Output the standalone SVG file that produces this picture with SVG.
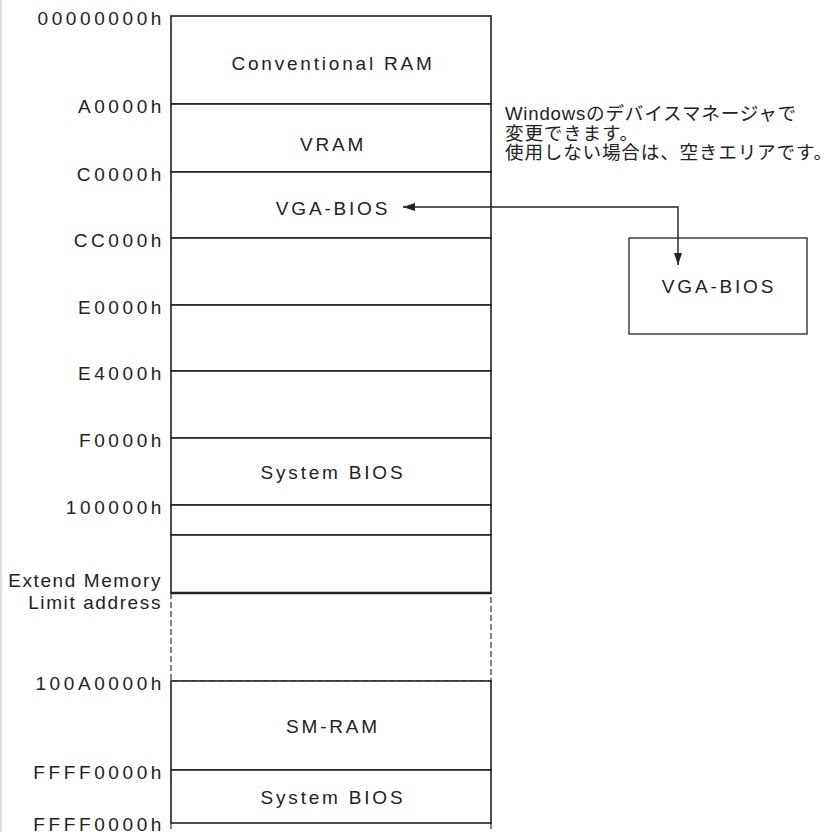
<svg xmlns="http://www.w3.org/2000/svg" width="838" height="832" viewBox="0 0 838 832">
<style>
.addr{font-family:"Liberation Sans",Arial,sans-serif;font-size:19px;fill:#222;letter-spacing:3.6px;text-anchor:end}
.addr2{font-family:"Liberation Sans",Arial,sans-serif;font-size:19px;fill:#222;letter-spacing:1.6px;text-anchor:end}
.lbl{font-family:"Liberation Sans",Arial,sans-serif;font-size:19px;fill:#222;letter-spacing:2.8px;text-anchor:middle}
.note{font-family:"Liberation Sans","Noto Sans CJK JP",sans-serif;font-size:18.6px;fill:#222;letter-spacing:0.8px}
.row{fill:#fff;stroke:#222;stroke-width:1.6}
.dash{fill:none;stroke:#333;stroke-width:1.2;stroke-dasharray:6 3}
.conn{fill:none;stroke:#222;stroke-width:1.4}
</style>
<defs>
<marker id="ah" viewBox="0 0 12 8" refX="12" refY="4" markerWidth="12" markerHeight="8" markerUnits="userSpaceOnUse" orient="auto-start-reverse">
<path d="M0,0 L12,4 L0,8 Z" fill="#222"/>
</marker>
</defs>
<rect width="838" height="832" fill="#fff"/>
<line x1="1" y1="0" x2="1" y2="832" stroke="#ddd" stroke-width="2"/>

<g id="undefined-area">
<rect class="dash" x="171" y="593" width="320" height="88"/>
<line class="dash" x1="171" y1="823" x2="171" y2="832"/>
<line class="dash" x1="491" y1="823" x2="491" y2="832"/>
</g>

<g id="conventional-ram"><rect class="row" x="171" y="16" width="320" height="88"/><text class="lbl" x="333" y="70">Conventional RAM</text></g>
<g id="vram"><rect class="row" x="171" y="104" width="320" height="68"/><text class="lbl" x="333" y="151">VRAM</text></g>
<g id="vga-bios-area"><rect class="row" x="171" y="172" width="320" height="66"/><text class="lbl" x="333" y="215">VGA-BIOS</text></g>
<g id="cc000-area"><rect class="row" x="171" y="238" width="320" height="67"/></g>
<g id="e0000-area"><rect class="row" x="171" y="305" width="320" height="66"/></g>
<g id="e4000-area"><rect class="row" x="171" y="371" width="320" height="67"/></g>
<g id="system-bios"><rect class="row" x="171" y="438" width="320" height="67"/><text class="lbl" x="333" y="479">System BIOS</text></g>
<g id="extended-1"><rect class="row" x="171" y="505" width="320" height="30"/></g>
<g id="extended-2"><rect class="row" x="171" y="535" width="320" height="58"/><line x1="171" y1="593" x2="491" y2="593" stroke="#222" stroke-width="2.4"/></g>
<g id="sm-ram"><rect class="row" x="171" y="681" width="320" height="89"/><text class="lbl" x="333" y="733">SM-RAM</text></g>
<g id="system-bios-high"><rect class="row" x="171" y="770" width="320" height="53"/><text class="lbl" x="333" y="804">System BIOS</text></g>

<g id="addresses">
<text class="addr" x="165" y="25">00000000h</text>
<text class="addr" x="165" y="113">A0000h</text>
<text class="addr" x="165" y="181">C0000h</text>
<text class="addr" x="165" y="247">CC000h</text>
<text class="addr" x="165" y="314">E0000h</text>
<text class="addr" x="165" y="380">E4000h</text>
<text class="addr" x="165" y="447">F0000h</text>
<text class="addr" x="165" y="514">100000h</text>
<text class="addr2" x="162" y="587">Extend Memory</text>
<text class="addr2" x="162" y="609">Limit address</text>
<text class="addr" x="165" y="690">100A0000h</text>
<text class="addr" x="165" y="779">FFFF0000h</text>
<text class="addr" x="165" y="831">FFFF0000h</text>
</g>

<g id="note">
<text class="note" x="505" y="120">Windowsのデバイスマネージャで</text>
<text class="note" x="505" y="139.5">変更できます。</text>
<text class="note" x="505" y="159">使用しない場合は、空きエリアです。</text>
</g>

<g id="vga-bios-option"><rect x="629" y="238" width="178" height="96" fill="#fff" stroke="#222" stroke-width="1.3"/><text class="lbl" x="719" y="293">VGA-BIOS</text></g>

<g id="connectors">
<polyline class="conn" points="403,207 678,207 678,265" marker-start="url(#ah)" marker-end="url(#ah)"/>
</g>
</svg>
